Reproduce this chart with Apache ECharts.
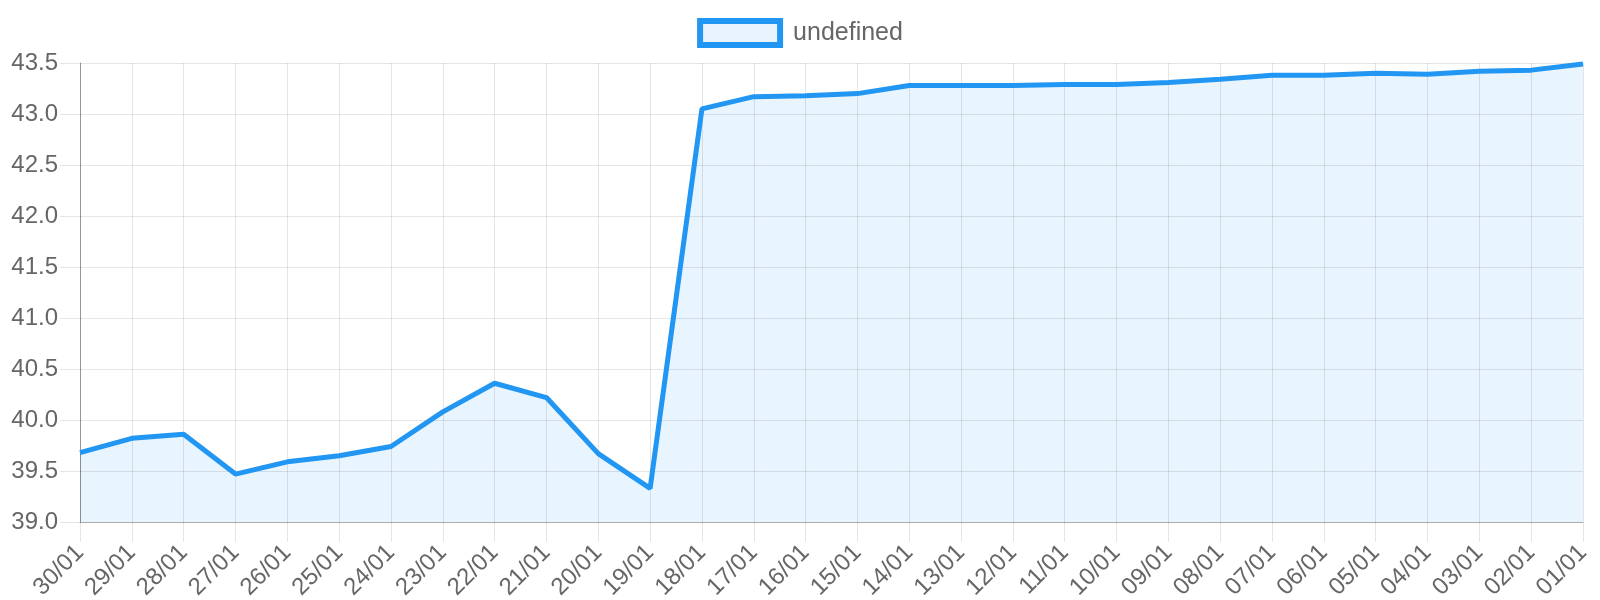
<!DOCTYPE html>
<html>
<head>
<meta charset="utf-8">
<script src="https://cdn.jsdelivr.net/npm/echarts@6/dist/echarts.min.js"></script>
<style>
html,body{margin:0;padding:0;background:#fff;}
#chart{width:1600px;height:600px;}
</style>
</head>
<body>
<div id="chart"></div>
<script>
const categories = ["30/01","29/01","28/01","27/01","26/01","25/01","24/01","23/01","22/01","21/01","20/01","19/01","18/01","17/01","16/01","15/01","14/01","13/01","12/01","11/01","10/01","09/01","08/01","07/01","06/01","05/01","04/01","03/01","02/01","01/01"];
const seriesName = "undefined";
const values = [39.68,39.82,39.86,39.47,39.59,39.65,39.74,40.08,40.36,40.22,39.67,39.33,43.05,43.17,43.18,43.20,43.28,43.28,43.28,43.29,43.29,43.31,43.34,43.38,43.38,43.40,43.39,43.42,43.43,43.49];
const yMin = 39.0, yMax = 43.5, yStep = 0.5;

const chart = echarts.init(document.getElementById('chart'), null, {renderer:'canvas'});
const font = 'Liberation Sans, Arial, sans-serif';
const gridColor = 'rgba(0,0,0,0.1)';
chart.setOption({
  animation: false,
  legend: {
    top: 13,
    left: 'center',
    icon: 'rect',
    itemWidth: 80,
    itemHeight: 24,
    textStyle: {fontFamily: font, fontSize: 25, color: '#666', padding: [0, 0, 0, 8]},
    data: [{name: seriesName, itemStyle: {color: '#E8F3FD', borderColor: '#2196F3', borderWidth: 6}}]
  },
  grid: {left: 80, right: 17, top: 63, bottom: 78, containLabel: false, outerBoundsMode: 'none'},
  xAxis: {
    type: 'category',
    data: categories,
    boundaryGap: false,
    z: 3,
    axisLine: {show: true, lineStyle: {color: 'rgba(0,0,0,0.25)', width: 1}},
    axisTick: {show: true, length: 20, lineStyle: {color: gridColor}},
    axisLabel: {rotate: 45, fontFamily: font, fontSize: 24, color: '#666', margin: 27, interval: 0},
    splitLine: {show: true, lineStyle: {color: gridColor, width: 1}}
  },
  yAxis: {
    type: 'value',
    min: yMin, max: yMax, interval: yStep,
    z: 3,
    axisLine: {show: true, lineStyle: {color: 'rgba(0,0,0,0.35)', width: 1}},
    axisTick: {show: true, length: 20, lineStyle: {color: gridColor}},
    axisLabel: {fontFamily: font, fontSize: 24, color: '#666', margin: 22, formatter: v => v.toFixed(1)},
    splitLine: {show: true, lineStyle: {color: gridColor, width: 1}}
  },
  series: [{
    name: seriesName,
    type: 'line',
    data: values,
    z: 1,
    showSymbol: false,
    symbol: 'none',
    lineStyle: {width: 0, opacity: 0},
    itemStyle: {color: '#2196F3'},
    areaStyle: {color: 'rgba(33,150,243,0.1)', opacity: 1, origin: 'start'}
  }, {
    name: seriesName,
    type: 'line',
    data: values,
    z: 5,
    showSymbol: false,
    symbol: 'none',
    lineStyle: {color: '#2196F3', width: 5},
    itemStyle: {color: '#2196F3'}
  }]
});
</script>
</body>
</html>
